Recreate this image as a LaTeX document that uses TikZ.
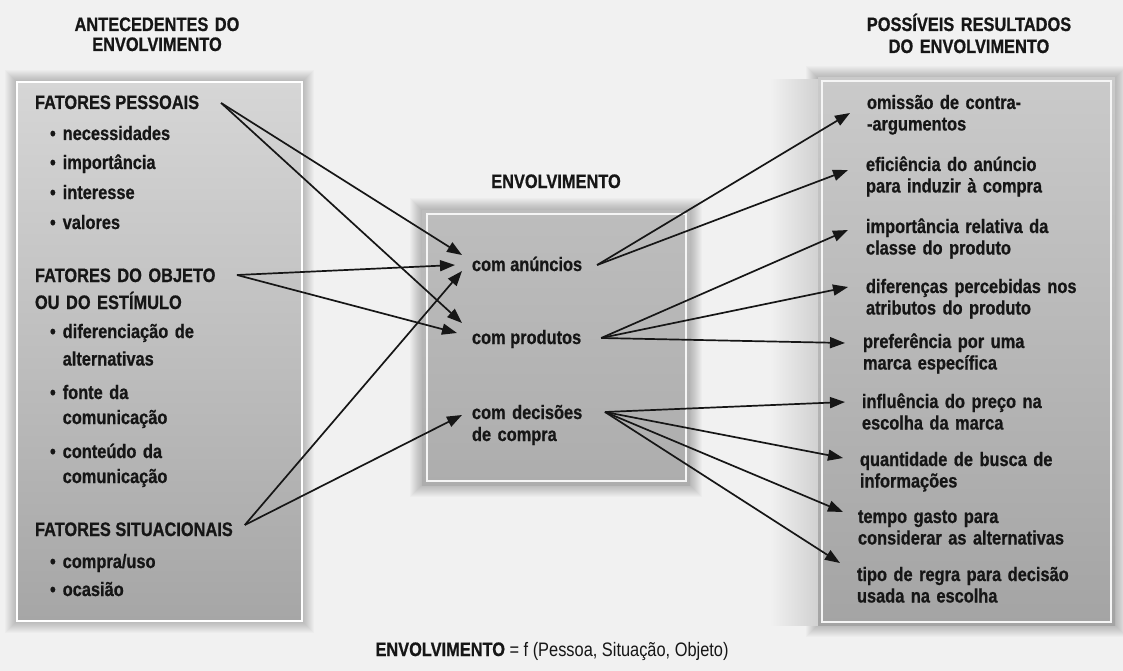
\documentclass[tikz,border=0pt]{standalone}
\usepackage{fontspec}
\setmainfont{Liberation Sans}[FakeStretch=0.84, BoldFeatures={FakeBold=0.7}]
\usetikzlibrary{arrows.meta}
\definecolor{ink}{HTML}{161616}
\definecolor{bgcol}{HTML}{F1F1F1}
\definecolor{ltop}{HTML}{D6D6D6}
\definecolor{lbot}{HTML}{A6A6A6}
\definecolor{ctop}{HTML}{BDBDBD}
\definecolor{cbot}{HTML}{ADADAD}
\definecolor{rtop}{HTML}{CACACA}
\definecolor{rbot}{HTML}{A4A4A4}
\begin{document}
\begin{tikzpicture}[x=1pt,y=-1pt,
  txt/.style={inner sep=0pt, outer sep=0pt, text=ink, font=\fontsize{19.5}{21.5}\selectfont\bfseries},
  ml/.style={txt, text width=260pt, align=left, anchor=base west},
  sl/.style={txt, anchor=base west},
  hd/.style={txt, text width=260pt, align=center, anchor=base},
  arr/.style={draw=ink, line width=1.7pt, -{Triangle[length=15pt,width=11pt]}}]
\useasboundingbox (0,0) rectangle (1123,671);
\fill[bgcol] (0,0) rectangle (1123,671);
% soft shadows
\foreach \i in {1,...,12}{
  \fill[black, opacity=0.02] (17-\i,82-\i) rectangle (302+\i,621+\i);
  \fill[black, opacity=0.02] (422-\i,210-\i) rectangle (690+\i,485+\i);
  \fill[black, opacity=0.02] (818-\i,78-\i) rectangle (1115+\i,625+\i);
}
\shade[left color=bgcol, right color=black!18] (770,80) rectangle (818,625);
% boxes
\shade[top color=ltop, bottom color=lbot] (17,82) rectangle (302,621);
\draw[white, line width=1.2pt] (17,82) rectangle (302,621);
\shade[top color=ctop, bottom color=cbot] (422,210) rectangle (690,485);
\draw[white!92!gray, line width=1.2pt] (427,214) rectangle (686,481);
\shade[top color=rtop, bottom color=rbot] (818,78) rectangle (1115,625);
\draw[white!92!gray, line width=1.2pt] (822,81) rectangle (1111,622);

% headings
\node[hd] (hl) at (157,31) {ANTECEDENTES DO\\[-1.5pt]ENVOLVIMENTO};
\node[hd] (hr) at (969,31) {POSSÍVEIS RESULTADOS\\[0.5pt]DO ENVOLVIMENTO};
\node[hd] (hc) at (556,188) {ENVOLVIMENTO};

% left column
\node[sl] (fp) at (35,109) {FATORES PESSOAIS};
\node[sl] (l1) at (50,140) {•\hspace{7pt}necessidades};
\node[sl] (l2) at (50,169) {•\hspace{7pt}importância};
\node[sl] (l3) at (50,199) {•\hspace{7pt}interesse};
\node[sl] (l4) at (50,229) {•\hspace{7pt}valores};
\node[ml, font=\fontsize{19.5}{27}\selectfont\bfseries] (fo) at (35,282) {FATORES DO OBJETO\\OU DO ESTÍMULO};
\node[ml, font=\fontsize{19.5}{27.5}\selectfont\bfseries] (l5) at (50,338) {•\hspace{7pt}diferenciação de\\\hphantom{•\hspace{7pt}}alternativas};
\node[ml, font=\fontsize{19.5}{25}\selectfont\bfseries] (l6) at (50,399) {•\hspace{7pt}fonte da\\\hphantom{•\hspace{7pt}}comunicação};
\node[ml, font=\fontsize{19.5}{25}\selectfont\bfseries] (l7) at (50,458) {•\hspace{7pt}conteúdo da\\\hphantom{•\hspace{7pt}}comunicação};
\node[sl] (fs) at (35,536) {FATORES SITUACIONAIS};
\node[sl] (l8) at (50,568) {•\hspace{7pt}compra/uso};
\node[sl] (l9) at (50,596) {•\hspace{7pt}ocasião};

% centre column
\node[sl] (an) at (472,271) {com anúncios};
\node[sl] (pr) at (472,344) {com produtos};
\node[ml, font=\fontsize{19.5}{22}\selectfont\bfseries] (de) at (472,419) {com decisões\\de compra};

% right column
\node[ml] (r1) at (867,109) {omissão de contra-\\-argumentos};
\node[ml] (r2) at (866,171) {eficiência do anúncio\\para induzir à compra};
\node[ml] (r3) at (866,233) {importância relativa da\\classe do produto};
\node[ml] (r4) at (866,293) {diferenças percebidas nos\\atributos do produto};
\node[ml] (r5) at (863,348) {preferência por uma\\marca específica};
\node[ml] (r6) at (862,408) {influência do preço na\\escolha da marca};
\node[ml] (r7) at (860,466) {quantidade de busca de\\informações};
\node[ml] (r8) at (858,523) {tempo gasto para\\considerar as alternativas};
\node[ml] (r9) at (857,581) {tipo de regra para decisão\\usada na escolha};

% footer
\node[txt, anchor=base] (ft) at (552,656) {ENVOLVIMENTO \mdseries= f (Pessoa, Situação, Objeto)};

% arrows: antecedents -> involvement
\draw[arr] ([shift={(22,-6)}]fp.base east) -- ([shift={(-10,-16)}]an.base west);
\draw[arr] ([shift={(22,-6)}]fp.base east) -- ([shift={(-10,-21)}]pr.base west);
\draw[arr] ([shift={(202,-7)}]fo.base west) -- ([shift={(-17,-6)}]an.base west);
\draw[arr] ([shift={(202,-7)}]fo.base west) -- ([shift={(-15,-11)}]pr.base west);
\draw[arr] ([shift={(12,-11)}]fs.base east) -- ([shift={(-10,0)}]an.base west);
\draw[arr] ([shift={(12,-11)}]fs.base east) -- ([shift={(-10,-4)}]de.base west);

% arrows: involvement -> outcomes
\draw[arr] ([shift={(15,-6)}]an.base east) -- ([shift={(-17,4)}]r1.base west);
\draw[arr] ([shift={(15,-6)}]an.base east) -- ([shift={(-18,-1)}]r2.base west);
\draw[arr] ([shift={(20,-6)}]pr.base east) -- ([shift={(-18,-3)}]r3.base west);
\draw[arr] ([shift={(20,-6)}]pr.base east) -- ([shift={(-18,-6)}]r4.base west);
\draw[arr] ([shift={(20,-6)}]pr.base east) -- ([shift={(-18,-5)}]r5.base west);
\draw[arr] ([shift={(133,-7)}]de.base west) -- ([shift={(-17,-6)}]r6.base west);
\draw[arr] ([shift={(133,-7)}]de.base west) -- ([shift={(-17,-8)}]r7.base west);
\draw[arr] ([shift={(133,-7)}]de.base west) -- ([shift={(-15,-11)}]r8.base west);
\draw[arr] ([shift={(133,-7)}]de.base west) -- ([shift={(-17,-18)}]r9.base west);
\end{tikzpicture}
\end{document}
